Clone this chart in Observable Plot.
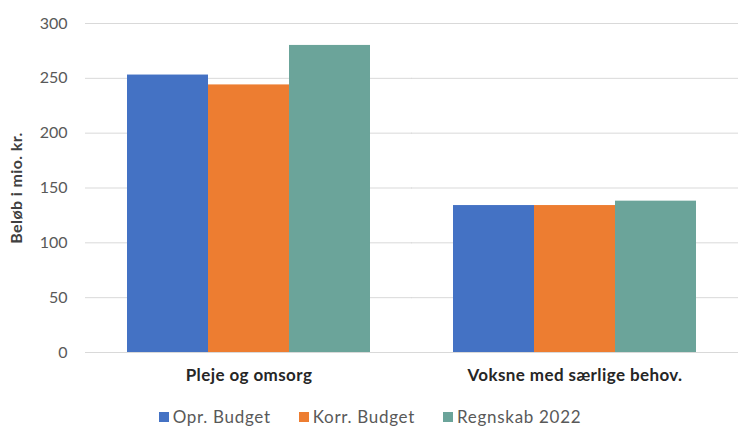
<!DOCTYPE html>
<html>
<head>
<meta charset="utf-8">
<script src="https://cdn.jsdelivr.net/npm/d3@7"></script>
<script src="https://cdn.jsdelivr.net/npm/@observablehq/plot@0.6"></script>
<style>
  body { margin: 0; background: #fff; font-family: Lato, "Liberation Sans", sans-serif; }
  #chart { width: 738px; }
  .legend { display: flex; justify-content: center; gap: 28px; font-size: 17px; letter-spacing: 0.7px; color: #595959; margin-top: 7px; padding-left: 2px; line-height: 20px; }
  .legend span.item { display: inline-flex; align-items: center; }
  .legend i { display: inline-block; width: 10px; height: 10px; margin-right: 4px; }
</style>
</head>
<body>
<div id="chart"></div>
<script>
const categories = ["Pleje og omsorg", "Voksne med særlige behov."];
const seriesNames = ["Opr. Budget", "Korr. Budget", "Regnskab 2022"];
const seriesColors = ["#4472C4", "#ED7D31", "#6BA49A"];
const oprBudget = [253, 134];
const korrBudget = [244, 134];
const regnskab = [280, 138];
const yTicks = [0, 50, 100, 150, 200, 250, 300];

const seriesValues = [oprBudget, korrBudget, regnskab];
const data = [];
categories.forEach((c, i) => {
  seriesNames.forEach((s, j) => data.push({category: c, series: s, value: seriesValues[j][i]}));
});

const plot = Plot.plot({
  width: 738,
  height: 400,
  marginTop: 23,
  marginBottom: 48,
  marginLeft: 85,
  marginRight: 0,
  style: {fontFamily: "Lato, 'Liberation Sans', sans-serif", fontSize: "16px", color: "#595959"},
  fx: {domain: categories, paddingInner: 0.25, paddingOuter: 0.125, label: null},
  x: {domain: seriesNames, padding: 0, axis: null},
  y: {domain: [0, 300], label: null},
  color: {domain: seriesNames, range: seriesColors},
  marks: [
    Plot.ruleY(yTicks, {stroke: "#d9d9d9", strokeWidth: 1, insetLeft: -41, insetRight: -41}),
    Plot.axisY(yTicks, {tickSize: 0, tickPadding: 18, dx: -41, label: "Beløb i mio. kr.", labelAnchor: "center", labelArrow: "none", labelOffset: 116, fill: "#595959"}),
    Plot.axisFx({anchor: "bottom", tickSize: 0, tickPadding: 16, fontWeight: "bold", fontSize: 17, fill: "#262626", label: null}),
    Plot.barY(data, {fx: "category", x: "series", y: "value", fill: "series"})
  ]
});
plot.querySelectorAll("text").forEach(t => {
  if (t.textContent === "Beløb i mio. kr.") { t.style.fontWeight = "bold"; t.style.fontSize = "16px"; t.style.fill = "#404040"; t.style.letterSpacing = "0.4px"; }
});
plot.querySelectorAll("[aria-label='fx-axis tick label'] text").forEach(t => { t.style.letterSpacing = "0.4px"; });
document.getElementById("chart").appendChild(plot);

const legend = document.createElement("div");
legend.className = "legend";
seriesNames.forEach((s, i) => {
  const item = document.createElement("span");
  item.className = "item";
  item.innerHTML = `<i style="background:${seriesColors[i]}"></i>${s}`;
  legend.appendChild(item);
});
document.getElementById("chart").appendChild(legend);
</script>
</body>
</html>
